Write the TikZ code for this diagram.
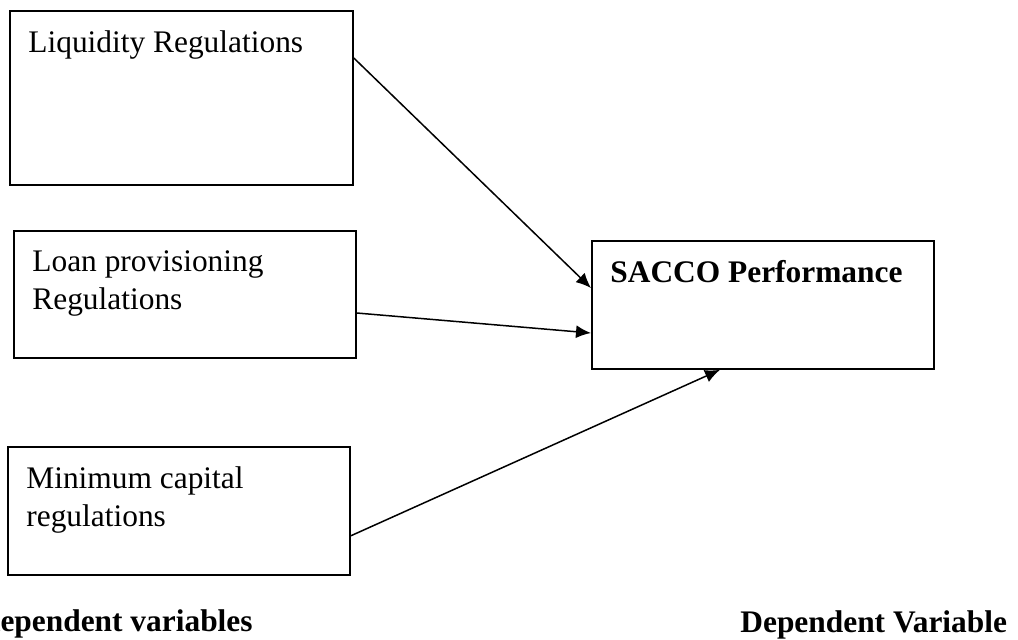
\documentclass[tikz,border=0pt]{standalone}
\usepackage{fontspec}
\setmainfont{Liberation Serif}
\usetikzlibrary{arrows.meta}
\tikzset{
	var/.style={draw, rectangle, line width=0.9pt, anchor=north west, inner sep=0pt},
	vartext/.style={anchor=north west, inner sep=0pt, align=left, xshift=9.5pt, yshift=-10pt, font=\fontsize{15.7}{19.3}\selectfont},
	link/.style={->, >={Latex[length=7.5pt, width=6.5pt]}, line width=0.75pt}
}
\begin{document}
\begin{tikzpicture}[x=0.5pt, y=-0.5pt]
				\useasboundingbox (0,0) rectangle (1018,639);
				\node[var, minimum width=171.5pt, minimum height=87pt, label={[vartext]north west:{Liquidity Regulations}}] (liq)at(9, 10) {};
				\node[var, minimum width=171pt, minimum height=63.5pt, label={[vartext]north west:{Loan provisioning\\Regulations}}] (loan)at(13, 230) {};
				\node[var, minimum width=171pt, minimum height=64pt, label={[vartext]north west:{Minimum capital\\regulations}}] (mincap)at(7, 446) {};
				\node[var, minimum width=171pt, minimum height=64pt, label={[vartext, font=\fontsize{15.7}{19.3}\selectfont\bfseries]north west:{SACCO Performance}}] (sacco)at(591, 240) {};
				\node[anchor=base west, inner sep=0pt, font=\fontsize{15.7}{19.3}\selectfont\bfseries] (indep)at(-47, 631) {Independent variables};
				\node[anchor=base west, inner sep=0pt, font=\fontsize{15.7}{19.3}\selectfont\bfseries] (dep)at(740, 632) {Dependent Variable};
				\draw[link] ([yshift=-24pt]liq.north east) -- ([yshift=-24pt]sacco.north west);
				\draw[link] ([yshift=-41.5pt]loan.north east) -- ([yshift=-46.5pt]sacco.north west);
				\draw[link] ([yshift=20pt]mincap.south east) -- ([xshift=64.5pt]sacco.south west);
			\end{tikzpicture}
\end{document}
